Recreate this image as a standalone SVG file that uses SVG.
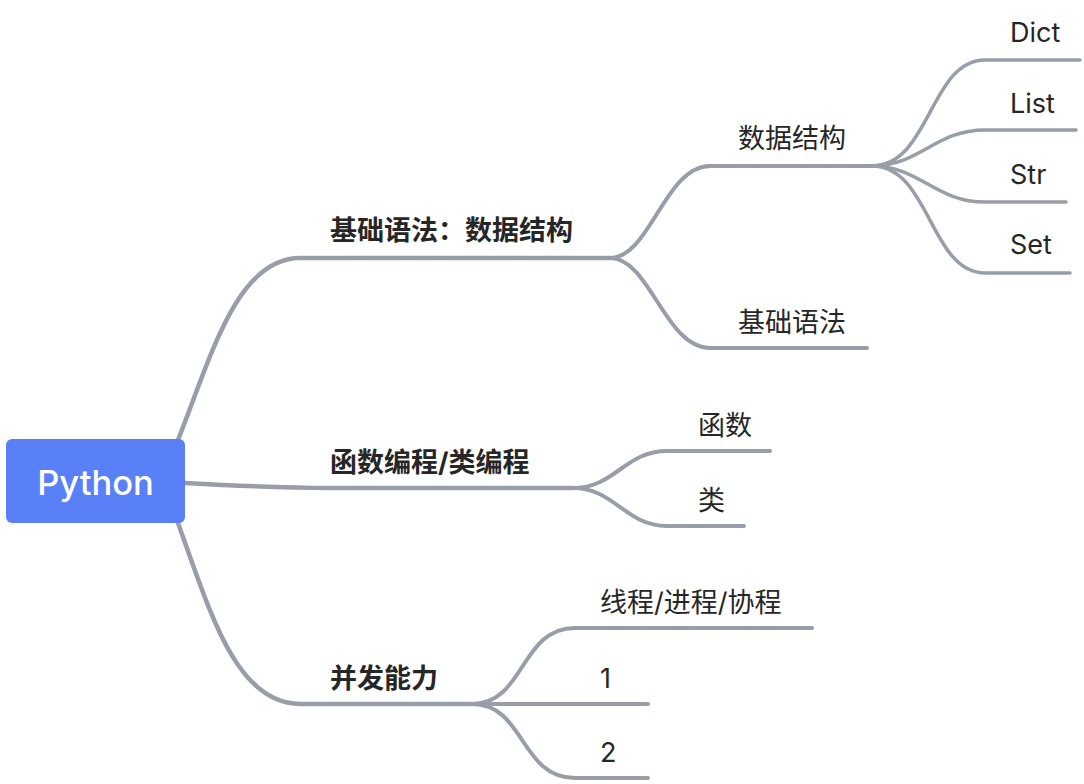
<svg xmlns="http://www.w3.org/2000/svg" width="1084" height="784" viewBox="0 0 1084 784">
<style>
.ln{fill:none;stroke:#979ea8;stroke-linecap:round;stroke-linejoin:round}
.m{stroke-width:4.5}
.s{stroke-width:4}
.l{stroke-width:3.5}
.t{font-family:Inter,"Noto Sans CJK SC",sans-serif;font-size:27px;fill:#262626}
.b{font-weight:bold}
</style>
<rect width="1084" height="784" fill="#ffffff"/>
<g id="connectors">
<path class="ln m" d="M178,440 C210,360 236,258 300,258 L610,258"/>
<path class="ln m" d="M185,483 C240,486 280,488 330,488 L573,488"/>
<path class="ln m" d="M178,523 C210,612 236,704 300,704 L472,704"/>
<path class="ln s" d="M610,258 C650,258 665,166 710,166 L872,166"/>
<path class="ln s" d="M610,258 C650,258 665,348 710,348 L867,348"/>
<path class="ln l" d="M872,166 C930,166 930,60 985,60 L1080,60"/>
<path class="ln l" d="M872,166 C920,166 935,130 985,130 L1076,130"/>
<path class="ln l" d="M872,166 C920,166 935,202 985,202 L1066,202"/>
<path class="ln l" d="M872,166 C930,166 930,273 985,273 L1070,273"/>
<path class="ln s" d="M573,488 C615,488 625,451 667,451 L770,451"/>
<path class="ln s" d="M573,488 C615,488 625,526 667,526 L744,526"/>
<path class="ln s" d="M472,704 C525,704 520,628 575,628 L812,628"/>
<path class="ln s" d="M472,704 L648,704"/>
<path class="ln s" d="M472,704 C525,704 520,778 575,778 L648,778"/>
</g>
<g id="root">
<rect x="6" y="439" width="179" height="84" rx="6" fill="#5a80f8"/>
<text x="95.5" y="494.5" text-anchor="middle" font-family="Inter,sans-serif" font-weight="500" font-size="34.5" fill="#ffffff">Python</text>
</g>
<g id="n1"><text class="t b" x="330" y="240">基础语法：数据结构</text></g>
<g id="n2"><text class="t b" x="330" y="472">函数编程/类编程</text></g>
<g id="n3"><text class="t b" x="330" y="688">并发能力</text></g>
<g id="n11"><text class="t" x="738" y="148">数据结构</text></g>
<g id="n12"><text class="t" x="738" y="332">基础语法</text></g>
<g id="n111"><text class="t" x="1010" y="42">Dict</text></g>
<g id="n112"><text class="t" x="1010" y="113">List</text></g>
<g id="n113"><text class="t" x="1010" y="184">Str</text></g>
<g id="n114"><text class="t" x="1010" y="254">Set</text></g>
<g id="n21"><text class="t" x="698" y="435">函数</text></g>
<g id="n22"><text class="t" x="698" y="510">类</text></g>
<g id="n31"><text class="t" x="600" y="612">线程/进程/协程</text></g>
<g id="n32"><text class="t" x="600" y="688">1</text></g>
<g id="n33"><text class="t" x="600" y="762">2</text></g>
</svg>
